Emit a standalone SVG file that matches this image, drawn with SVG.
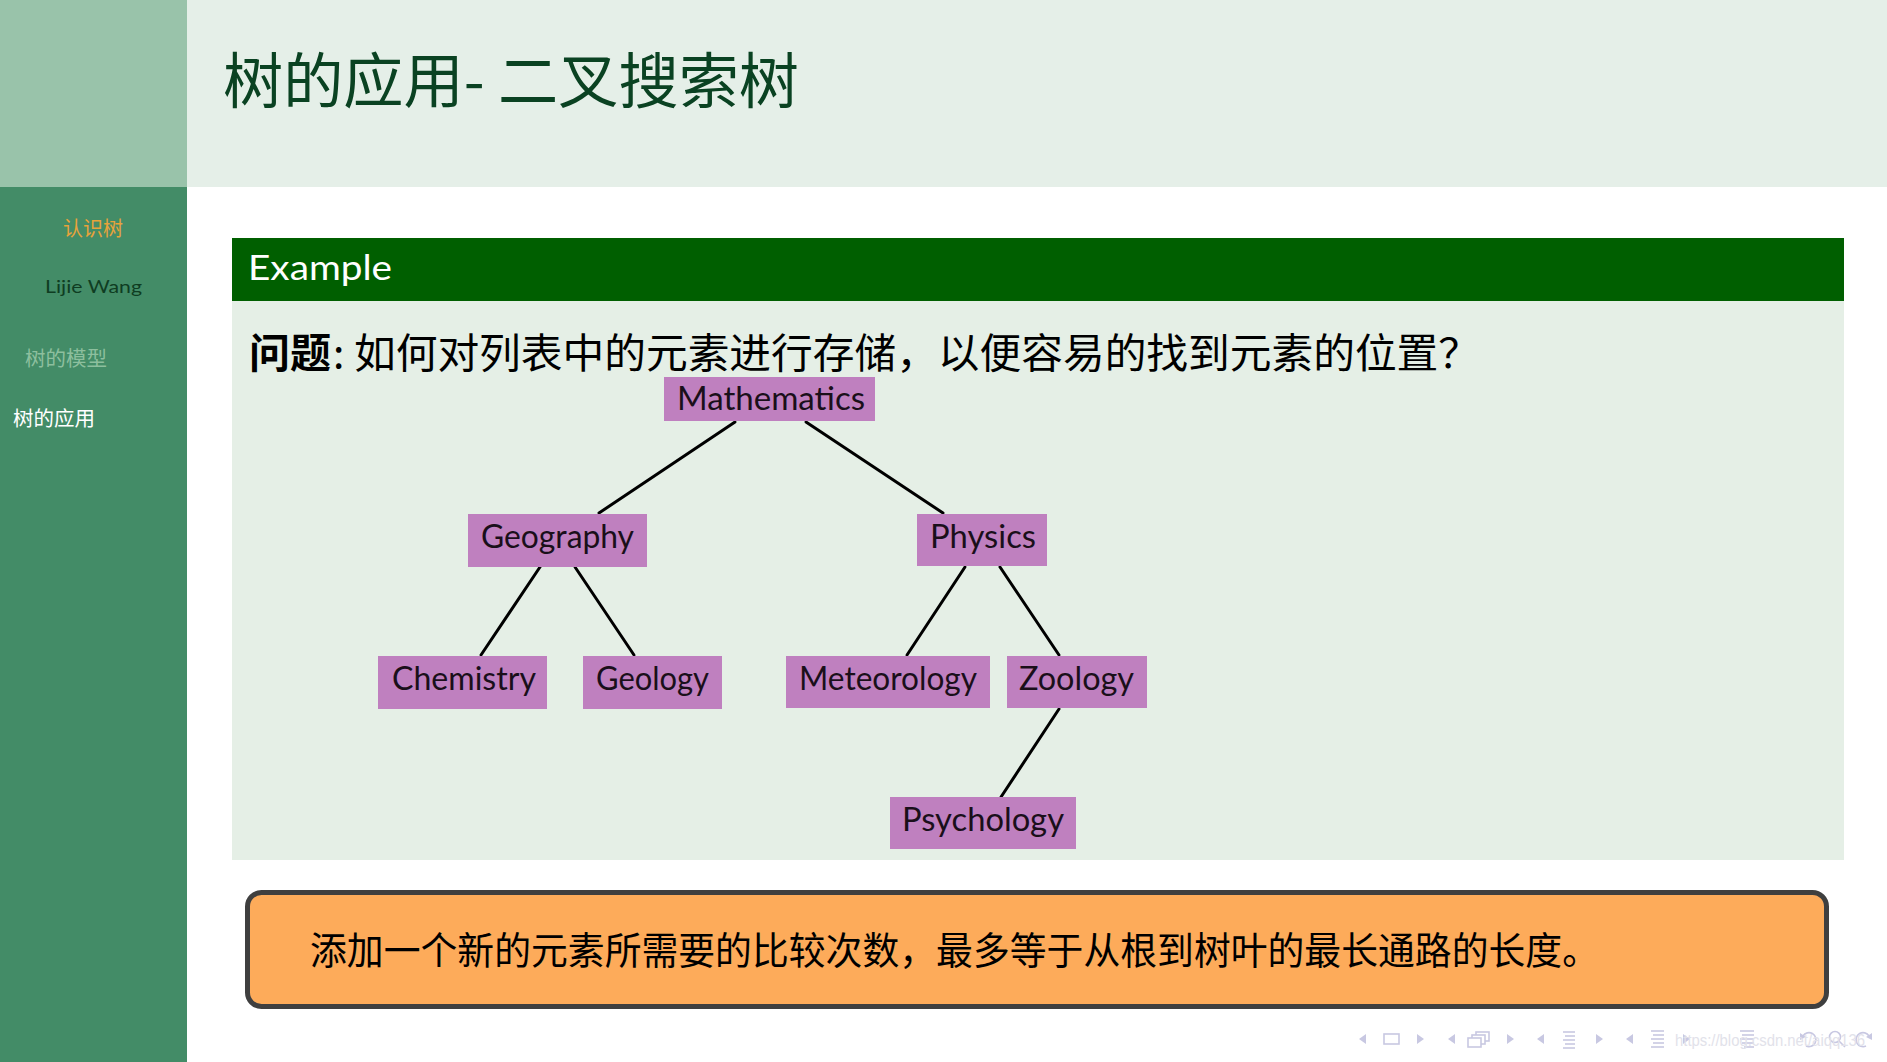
<svg xmlns="http://www.w3.org/2000/svg" width="1887" height="1062" viewBox="0 0 1887 1062">
<style>
.cjk{font-family:"Noto Sans CJK SC","Noto Sans",sans-serif;}
.lat{font-family:Lato,"Open Sans","Liberation Sans",sans-serif;}
.node rect{fill:#bf80bf;}
.node text{font-family:Lato,"Open Sans","Liberation Sans",sans-serif;font-size:32px;fill:#1a0f1a;}
.edges line{stroke:#000;stroke-width:3;stroke-linecap:round;}
.nav{fill:#c8c8e2;stroke:none;}
.navs{fill:none;stroke:#c8c8e2;stroke-width:1.6;}
</style>
<rect x="0" y="0" width="1887" height="1062" fill="#ffffff"/>
<!-- sidebar -->
<g id="sidebar">
<rect x="0" y="0" width="187" height="187" fill="#99c3aa"/>
<rect x="0" y="187" width="187" height="875" fill="#438c67"/>
<text class="cjk" x="93" y="236" font-size="20" fill="#e8a33a" text-anchor="middle">认识树</text>
<text class="lat" x="45" y="293" font-size="18" fill="#0f3d22" textLength="97" lengthAdjust="spacingAndGlyphs">Lijie Wang</text>
<text class="cjk" x="25" y="366" font-size="20.5" fill="#8dbf9e">树的模型</text>
<text class="cjk" x="13" y="426" font-size="20.5" fill="#ffffff">树的应用</text>
</g>
<!-- header -->
<g id="header">
<rect x="187" y="0" width="1700" height="187" fill="#e5efe8"/>
<text class="cjk" x="223" y="103" font-size="60" fill="#0a4222" textLength="576" lengthAdjust="spacingAndGlyphs">树的应用- 二叉搜索树</text>
</g>
<!-- example block -->
<g id="example">
<rect x="232" y="238" width="1612" height="63" fill="#005f00"/>
<rect x="232" y="301" width="1612" height="559" fill="#e5efe6"/>
<text class="lat" x="248" y="280" font-size="34" fill="#ffffff" textLength="144" lengthAdjust="spacingAndGlyphs">Example</text>
<text class="cjk" x="249" y="368" font-size="41" fill="#000000"><tspan font-weight="bold">问题</tspan><tspan x="333">:</tspan><tspan x="354" textLength="1126" lengthAdjust="spacingAndGlyphs">如何对列表中的元素进行存储，以便容易的找到元素的位置？</tspan></text>
</g>
<!-- connectors -->
<g id="connectors" class="edges">
<line x1="735" y1="422" x2="599" y2="513"/>
<line x1="806" y1="422" x2="943" y2="513"/>
<line x1="540" y1="567" x2="481" y2="655"/>
<line x1="575" y1="567" x2="634" y2="655"/>
<line x1="965" y1="567" x2="907" y2="655"/>
<line x1="1000" y1="567" x2="1059" y2="655"/>
<line x1="1059" y1="709" x2="1001" y2="797"/>
</g>
<!-- nodes -->
<g id="node-mathematics" class="node"><rect x="664" y="377" width="211" height="44"/><text x="677" y="410" textLength="188" lengthAdjust="spacingAndGlyphs">Mathematics</text></g>
<g id="node-geography" class="node"><rect x="468" y="514" width="179" height="53"/><text x="481" y="548" textLength="153" lengthAdjust="spacingAndGlyphs">Geography</text></g>
<g id="node-physics" class="node"><rect x="917" y="514" width="130" height="52"/><text x="930" y="548" textLength="106" lengthAdjust="spacingAndGlyphs">Physics</text></g>
<g id="node-chemistry" class="node"><rect x="378" y="656" width="169" height="53"/><text x="392" y="690" textLength="144" lengthAdjust="spacingAndGlyphs">Chemistry</text></g>
<g id="node-geology" class="node"><rect x="583" y="656" width="139" height="53"/><text x="596" y="690" textLength="113" lengthAdjust="spacingAndGlyphs">Geology</text></g>
<g id="node-meteorology" class="node"><rect x="786" y="656" width="204" height="52"/><text x="799" y="690" textLength="178" lengthAdjust="spacingAndGlyphs">Meteorology</text></g>
<g id="node-zoology" class="node"><rect x="1007" y="656" width="140" height="52"/><text x="1019" y="690" textLength="115" lengthAdjust="spacingAndGlyphs">Zoology</text></g>
<g id="node-psychology" class="node"><rect x="890" y="797" width="186" height="52"/><text x="902" y="831" textLength="162" lengthAdjust="spacingAndGlyphs">Psychology</text></g>
<!-- conclusion box -->
<g id="conclusion">
<rect x="247.5" y="892.5" width="1579" height="114" rx="14" ry="14" fill="#fdab5a" stroke="#3f3f3f" stroke-width="5"/>
<text class="cjk" x="310" y="964" font-size="38" fill="#000000" textLength="1289" lengthAdjust="spacingAndGlyphs">添加一个新的元素所需要的比较次数，最多等于从根到树叶的最长通路的长度。</text>
</g>
<!-- navigation symbols -->
<g id="navigation">
<polygon class="nav" points="1366,1034 1359,1039 1366,1044"/>
<rect class="navs" x="1384" y="1034" width="15" height="10"/>
<polygon class="nav" points="1417,1034 1424,1039 1417,1044"/>
<polygon class="nav" points="1455,1034 1448,1039 1455,1044"/>
<rect class="navs" x="1476" y="1032" width="13" height="9"/>
<rect x="1472" y="1035" width="13" height="9" fill="#ffffff" stroke="#c8c8e2" stroke-width="1.6"/>
<rect x="1468" y="1038" width="13" height="9" fill="#ffffff" stroke="#c8c8e2" stroke-width="1.6"/>
<polygon class="nav" points="1507,1034 1514,1039 1507,1044"/>
<polygon class="nav" points="1544,1034 1537,1039 1544,1044"/>
<g class="navs"><line x1="1563" y1="1032" x2="1575" y2="1032"/><line x1="1565" y1="1036" x2="1575" y2="1036"/><line x1="1563" y1="1040" x2="1575" y2="1040"/><line x1="1565" y1="1044" x2="1575" y2="1044"/><line x1="1563" y1="1048" x2="1575" y2="1048"/></g>
<polygon class="nav" points="1596,1034 1603,1039 1596,1044"/>
<polygon class="nav" points="1633,1034 1626,1039 1633,1044"/>
<g class="navs"><line x1="1651" y1="1031" x2="1664" y2="1031"/><line x1="1653" y1="1035" x2="1664" y2="1035"/><line x1="1651" y1="1039" x2="1664" y2="1039"/><line x1="1653" y1="1043" x2="1664" y2="1043"/><line x1="1651" y1="1047" x2="1664" y2="1047"/></g>
<polygon class="nav" points="1683,1034 1690,1039 1683,1044"/>
<g class="navs"><line x1="1740" y1="1031" x2="1754" y2="1031"/><line x1="1742" y1="1035" x2="1754" y2="1035"/><line x1="1740" y1="1039" x2="1754" y2="1039"/><line x1="1742" y1="1043" x2="1754" y2="1043"/><line x1="1744" y1="1047" x2="1754" y2="1047"/></g>
<path class="navs" d="M1803,1036 A7,7 0 1 1 1806,1046"/>
<polygon class="nav" points="1800,1033 1806,1037 1800,1040"/>
<circle class="navs" cx="1835" cy="1037" r="5.5"/>
<line class="navs" x1="1839" y1="1041" x2="1845" y2="1047"/>
<path class="navs" d="M1869,1036 A7,7 0 1 0 1866,1046"/>
<polygon class="nav" points="1872,1033 1866,1037 1872,1040"/>
<text x="1675" y="1046" font-family="'Liberation Sans',Arial,sans-serif" font-size="16" fill="#e2e2ea" textLength="190" lengthAdjust="spacingAndGlyphs">https://blog.csdn.net/aiqq136</text>
</g>
</svg>
